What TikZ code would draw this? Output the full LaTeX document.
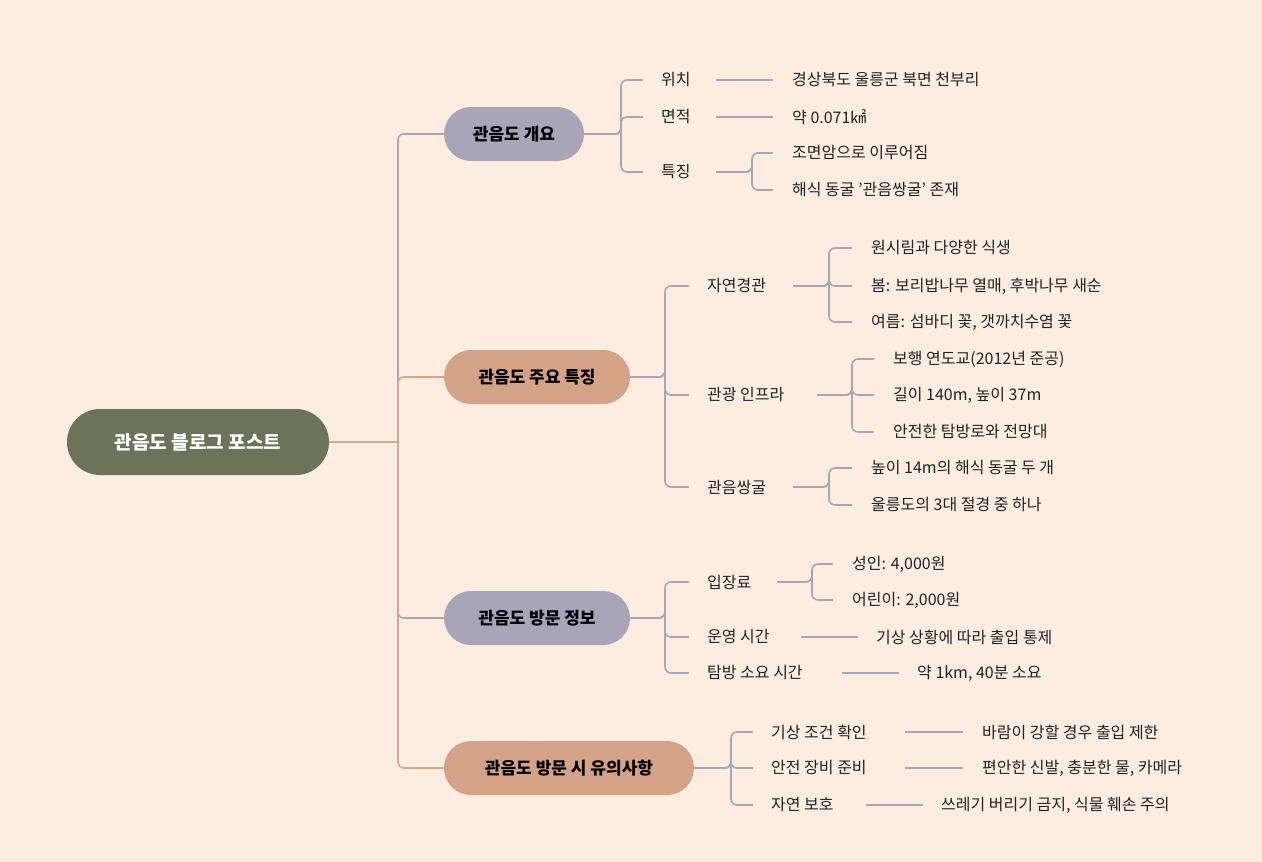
\documentclass[tikz,border=0pt]{standalone}
\usepackage{fontspec}
\setmainfont{Noto Sans CJK KR}
\definecolor{bg}{HTML}{FDEDE0}
\definecolor{rootc}{HTML}{6B7358}
\definecolor{grayc}{HTML}{A8A5B8}
\definecolor{salc}{HTML}{D4A287}
\definecolor{lg}{HTML}{A9A6B6}
\definecolor{ls}{HTML}{D4A88C}
\definecolor{txt}{HTML}{222222}
\begin{document}
\begin{tikzpicture}[x=1pt,y=-1pt,
  lbl/.style={anchor=west,inner sep=0pt,font=\fontsize{16}{18}\selectfont,text=txt},
  main/.style={rounded corners=27pt,minimum height=54pt,inner sep=0pt,font=\fontsize{17}{20}\selectfont\bfseries,text=black},
  gl/.style={draw=lg,line width=1.6pt,rounded corners=6pt},
  sl/.style={draw=ls,line width=1.6pt,rounded corners=6pt}]
\fill[bg] (0,0) rectangle (1262,862);
\useasboundingbox (0,0) rectangle (1262,862);
\node[fill=rootc,rounded corners=33pt,minimum width=262pt,minimum height=66pt,text=white,font=\fontsize{19}{22}\selectfont\bfseries] (root) at (198,442) {관음도 블로그 포스트};
\node[main,fill=grayc,minimum width=140pt] (a) at (514,134) {관음도 개요};
\node[main,fill=salc,minimum width=186pt] (b) at (537,377) {관음도 주요 특징};
\node[main,fill=grayc,minimum width=186pt] (c) at (537,618) {관음도 방문 정보};
\node[main,fill=salc,minimum width=250pt] (d) at (569,768) {관음도 방문 시 유의사항};
\draw[sl] (root.east) -- (398,442);
\draw[gl] (398,442) |- (a.west);
\draw[sl] (398,442) |- (b.west);
\draw[gl] (398,442) |- (c.west);
\draw[sl] (398,442) |- (d.west);
% A
\node[lbl] (a1) at (661,80) {위치};
\node[lbl] (a2) at (661,117) {면적};
\node[lbl] (a3) at (661,172) {특징};
\node[lbl] (a1v) at (792,80) {경상북도 울릉군 북면 천부리};
\node[lbl] (a2v) at (792,117) {약 0.071㎢};
\node[lbl] (a31) at (792,153) {조면암으로 이루어짐};
\node[lbl] (a32) at (792,190) {해식 동굴 '관음쌍굴' 존재};
\foreach \n in {a1,a2,a3} \draw[gl] (a.east) -| (621,134) |- ([xshift=-18pt]\n.west);
\draw[gl] (716,80) -- (773,80);
\draw[gl] (716,117) -- (773,117);
\foreach \n in {a31,a32} \draw[gl] (716,172) -| (752,172) |- ([xshift=-19pt]\n.west);
% B
\node[lbl] (b1) at (707,286) {자연경관};
\node[lbl] (b2) at (707,395) {관광 인프라};
\node[lbl] (b3) at (707,487) {관음쌍굴};
\foreach \n in {b1,b2,b3} \draw[gl] (b.east) -| (665,377) |- ([xshift=-18pt]\n.west);
\node[lbl] (b11) at (871,248) {원시림과 다양한 식생};
\node[lbl] (b12) at (871,286) {봄: 보리밥나무 열매, 후박나무 새순};
\node[lbl] (b13) at (871,322) {여름: 섬바디 꽃, 갯까치수염 꽃};
\foreach \n in {b11,b12,b13} \draw[gl] (793,286) -| (829,286) |- ([xshift=-19pt]\n.west);
\node[lbl] (b21) at (893,359) {보행 연도교(2012년 준공)};
\node[lbl] (b22) at (893,395) {길이 140m, 높이 37m};
\node[lbl] (b23) at (893,432) {안전한 탐방로와 전망대};
\foreach \n in {b21,b22,b23} \draw[gl] (817,395) -| (852,395) |- ([xshift=-19pt]\n.west);
\node[lbl] (b31) at (871,468) {높이 14m의 해식 동굴 두 개};
\node[lbl] (b32) at (871,505) {울릉도의 3대 절경 중 하나};
\foreach \n in {b31,b32} \draw[gl] (793,487) -| (829,487) |- ([xshift=-19pt]\n.west);
% C
\node[lbl] (c1) at (707,582) {입장료};
\node[lbl] (c2) at (707,637) {운영 시간};
\node[lbl] (c3) at (707,673) {탐방 소요 시간};
\foreach \n in {c1,c2,c3} \draw[gl] (c.east) -| (665,618) |- ([xshift=-18pt]\n.west);
\node[lbl] (c11) at (852,564) {성인: 4,000원};
\node[lbl] (c12) at (852,600) {어린이: 2,000원};
\foreach \n in {c11,c12} \draw[gl] (777,582) -| (812,582) |- ([xshift=-19pt]\n.west);
\node[lbl] (c2v) at (876,637) {기상 상황에 따라 출입 통제};
\node[lbl] (c3v) at (917,673) {약 1km, 40분 소요};
\draw[gl] (801,637) -- ([xshift=-18pt]c2v.west);
\draw[gl] (842,673) -- ([xshift=-18pt]c3v.west);
% D
\node[lbl] (d1) at (771,732) {기상 조건 확인};
\node[lbl] (d2) at (771,768) {안전 장비 준비};
\node[lbl] (d3) at (771,805) {자연 보호};
\foreach \n in {d1,d2,d3} \draw[gl] (d.east) -| (731,768) |- ([xshift=-18pt]\n.west);
\node[lbl] (d1v) at (982,732) {바람이 강할 경우 출입 제한};
\node[lbl] (d2v) at (982,768) {편안한 신발, 충분한 물, 카메라};
\node[lbl] (d3v) at (941,805) {쓰레기 버리기 금지, 식물 훼손 주의};
\draw[gl] (905,732) -- ([xshift=-19pt]d1v.west);
\draw[gl] (905,768) -- ([xshift=-19pt]d2v.west);
\draw[gl] (866,805) -- ([xshift=-18pt]d3v.west);
\end{tikzpicture}
\end{document}
